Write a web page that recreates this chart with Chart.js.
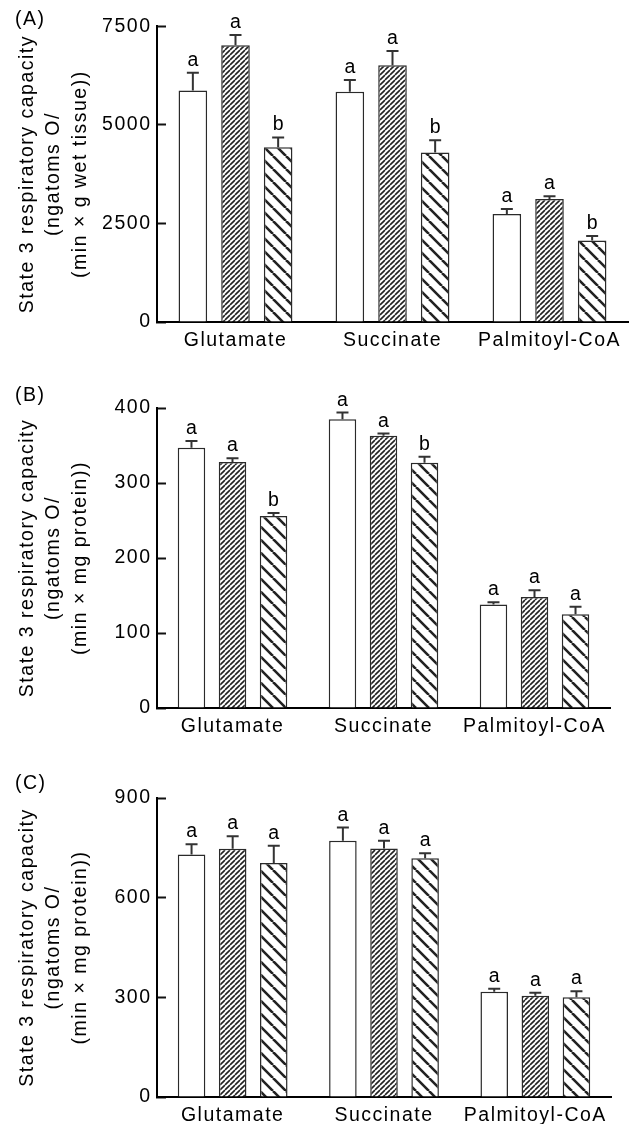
<!DOCTYPE html>
<html>
<head>
<meta charset="utf-8">
<script src="https://cdn.jsdelivr.net/npm/chart.js@4.4.1/dist/chart.umd.min.js"></script>
<style>
  body { margin: 0; background: #fff; }
  .panel { position: absolute; left: 0; width: 639px; }
</style>
</head>
<body>
<div class="panel" style="top:0;height:360px"><canvas id="chartA"></canvas></div>
<div class="panel" style="top:370px;height:370px"><canvas id="chartB"></canvas></div>
<div class="panel" style="top:740px;height:384px"><canvas id="chartC"></canvas></div>
<script>
const substrates = ["Glutamate", "Succinate", "Palmitoyl-CoA"];

// (A) per g wet tissue
const wetGroup1 = [5870, 5840, 2740];
const wetGroup1Err = [450, 295, 125];
const wetGroup2 = [7015, 6510, 3120];
const wetGroup2Err = [260, 360, 67];
const wetGroup3 = [4430, 4300, 2065];
const wetGroup3Err = [250, 310, 118];
const wetLetters = [["a", "a", "a"], ["a", "a", "a"], ["b", "b", "b"]];

// (B) per mg protein
const protBGroup1 = [347, 385, 138];
const protBGroup1Err = [9, 9, 3];
const protBGroup2 = [328, 363, 148];
const protBGroup2Err = [5, 3, 9];
const protBGroup3 = [256, 327, 125];
const protBGroup3Err = [4, 8, 10];
const protBLetters = [["a", "a", "a"], ["a", "a", "a"], ["b", "b", "a"]];

// (C) per mg protein
const protCGroup1 = [730, 771, 317];
const protCGroup1Err = [31, 40, 9];
const protCGroup2 = [747, 748, 305];
const protCGroup2Err = [38, 23, 9];
const protCGroup3 = [704, 719, 300];
const protCGroup3Err = [52, 15, 18];
const protCLetters = [["a", "a", "a"], ["a", "a", "a"], ["a", "a", "a"]];

const fontFamily = "'Liberation Sans', Arial, Helvetica, sans-serif";
const fontSize = 19.5;

function hatch(size, lw, dir) {
  const c = document.createElement("canvas");
  c.width = size;
  c.height = size;
  const g = c.getContext("2d");
  g.fillStyle = "#fff";
  g.fillRect(0, 0, size, size);
  g.strokeStyle = "#222";
  g.lineWidth = lw;
  g.beginPath();
  for (let k = -1; k <= 1; k++) {
    if (dir === "/") {
      g.moveTo(k * size, size);
      g.lineTo(k * size + size, 0);
    } else {
      g.moveTo(k * size, 0);
      g.lineTo(k * size + size, size);
    }
  }
  g.stroke();
  return g.createPattern(c, "repeat");
}

const fineHatch = hatch(5, 1.6, "/");
const coarseHatch = hatch(13, 2.6, "\\");

// letter spacing like the original typesetting
const tracking = {
  id: "tracking",
  beforeDraw(chart) {
    chart.ctx.letterSpacing = "1.5px";
  },
};

// error bars (upper whisker) and significance letters
const errorBars = {
  id: "errorBars",
  afterDatasetsDraw(chart) {
    const ctx = chart.ctx;
    const y = chart.scales.y;
    chart.data.datasets.forEach((ds, i) => {
      const meta = chart.getDatasetMeta(i);
      meta.data.forEach((bar, j) => {
        const top = y.getPixelForValue(ds.data[j] + ds.err[j]);
        ctx.save();
        ctx.strokeStyle = "#333";
        ctx.lineWidth = 2;
        ctx.beginPath();
        ctx.moveTo(bar.x, bar.y);
        ctx.lineTo(bar.x, top);
        ctx.moveTo(bar.x - 6, top);
        ctx.lineTo(bar.x + 6, top);
        ctx.stroke();
        ctx.fillStyle = "#000";
        ctx.font = fontSize + "px " + fontFamily;
        ctx.textAlign = "center";
        ctx.textBaseline = "alphabetic";
        ctx.fillText(ds.letters[j], bar.x + 0.75, top - 7);
        ctx.restore();
      });
    });
  },
};

const panelLabel = {
  id: "panelLabel",
  afterDraw(chart, args, opts) {
    const ctx = chart.ctx;
    ctx.save();
    ctx.fillStyle = "#000";
    ctx.font = fontSize + "px " + fontFamily;
    ctx.textBaseline = "alphabetic";
    ctx.fillText(opts.text, 15, opts.y);
    ctx.restore();
  },
};

function makeChart(id, series, errs, letters, opts) {
  const fills = ["#fff", fineHatch, coarseHatch];
  const datasets = series.map((data, i) => ({
    label: "group " + (i + 1),
    data: data,
    err: errs[i],
    letters: letters[i],
    backgroundColor: fills[i],
    borderColor: "#2a2a2a",
    borderWidth: 1.5,
    categoryPercentage: 0.815,
    barPercentage: 0.67,
  }));

  const config = {
    type: "bar",
    data: { labels: substrates, datasets: datasets },
    options: {
      responsive: true,
      maintainAspectRatio: false,
      animation: false,
      layout: { padding: opts.padding },
      plugins: {
        legend: { display: false },
        tooltip: { enabled: false },
        panelLabel: { text: opts.label, y: opts.labelY },
      },
      scales: {
        x: {
          afterFit: (s) => { s.height = opts.xHeight; },
          grid: {
            offset: false,
            drawOnChartArea: false,
            tickLength: -8,
            tickWidth: 2,
            tickColor: "#111",
          },
          border: { color: "#000", width: 2 },
          ticks: {
            color: "#000",
            padding: 14.5,
            font: { family: fontFamily, size: fontSize },
          },
        },
        y: {
          min: 0,
          max: opts.max,
          afterFit: (s) => { s.width = 157; },
          grid: {
            drawOnChartArea: false,
            tickLength: -9,
            tickWidth: 2,
            tickColor: "#111",
          },
          border: { color: "#000", width: 2 },
          ticks: {
            stepSize: opts.step,
            color: "#000",
            padding: 14.5,
            font: { family: fontFamily, size: fontSize },
            callback: (value) => String(value),
          },
          title: {
            display: true,
            text: opts.title,
            color: "#000",
            font: { family: fontFamily, size: fontSize, lineHeight: 1.36 },
            padding: { top: 14, bottom: 0 },
          },
        },
      },
    },
    plugins: [tracking, errorBars, panelLabel],
  };

  return new Chart(document.getElementById(id), config);
}

makeChart(
  "chartA",
  [wetGroup1, wetGroup2, wetGroup3],
  [wetGroup1Err, wetGroup2Err, wetGroup3Err],
  wetLetters,
  {
    max: 7500, step: 2500, label: "(A)", labelY: 25, xHeight: 38,
    padding: { top: 23, right: 11, bottom: 0, left: 0 },
    title: ["State 3 respiratory capacity", "(ngatoms O/", "(min \u00d7 g wet tissue))"],
  }
);

makeChart(
  "chartB",
  [protBGroup1, protBGroup2, protBGroup3],
  [protBGroup1Err, protBGroup2Err, protBGroup3Err],
  protBLetters,
  {
    max: 400, step: 100, label: "(B)", labelY: 31, xHeight: 32,
    padding: { top: 38, right: 29, bottom: 0, left: 0 },
    title: ["State 3 respiratory capacity", "(ngatoms O/", "(min \u00d7 mg protein))"],
  }
);

makeChart(
  "chartC",
  [protCGroup1, protCGroup2, protCGroup3],
  [protCGroup1Err, protCGroup2Err, protCGroup3Err],
  protCLetters,
  {
    max: 900, step: 300, label: "(C)", labelY: 49, xHeight: 27,
    padding: { top: 58, right: 28, bottom: 0, left: 0 },
    title: ["State 3 respiratory capacity", "(ngatoms O/", "(min \u00d7 mg protein))"],
  }
);
</script>
</body>
</html>
